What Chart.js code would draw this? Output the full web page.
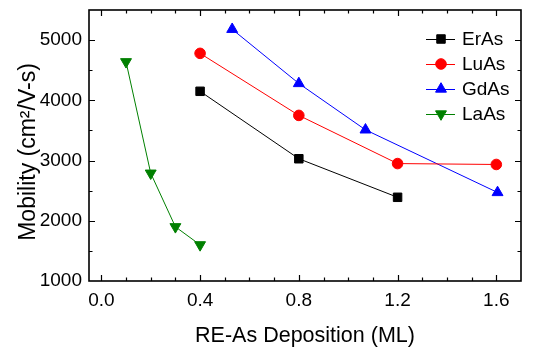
<!DOCTYPE html>
<html><head><meta charset="utf-8">
<script src="https://cdn.jsdelivr.net/npm/chart.js@4/dist/chart.umd.min.js"></script>
<style>html,body{margin:0;padding:0;background:#fff}</style>
</head><body>
<canvas id="c" width="544" height="351" style="display:block;width:544px;height:351px"></canvas>
<script>
// ---- data ----
const seriesNames = ['ErAs', 'LuAs', 'GdAs', 'LaAs'];
const erAsX = [0.4, 0.8, 1.2];
const erAsY = [4150, 3030, 2390];
const luAsX = [0.4, 0.8, 1.2, 1.6];
const luAsY = [4780, 3750, 2950, 2935];
const gdAsX = [0.53, 0.8, 1.07, 1.605];
const gdAsY = [5180, 4280, 3510, 2470];
const laAsX = [0.1, 0.2, 0.3, 0.4];
const laAsY = [4640, 2790, 1900, 1600];
const xTickLabels = ['0.0', '0.4', '0.8', '1.2', '1.6'];
const yTickLabels = ['1000', '2000', '3000', '4000', '5000'];
const xTitle = 'RE-As Deposition (ML)';
const yTitle = 'Mobility (cm\u00B2/V-s)';

const FONT = "'Liberation Sans', Arial, Helvetica, sans-serif";
const colors = ['#000000', '#ff0000', '#0000ff', '#008000'];
const styles = [
  {pointStyle: 'rect', radius: 6, rotation: 0},
  {pointStyle: 'circle', radius: 5.3, rotation: 0},
  {pointStyle: 'triangle', radius: 6.3, rotation: 0},
  {pointStyle: 'triangle', radius: 6.3, rotation: 180}
];
const xs = [erAsX, luAsX, gdAsX, laAsX];
const ys = [erAsY, luAsY, gdAsY, laAsY];

const datasets = seriesNames.map((name, i) => ({
  label: name,
  data: xs[i].map((x, k) => ({x: x, y: ys[i][k]})),
  borderColor: colors[i],
  backgroundColor: colors[i],
  borderWidth: 1,
  pointStyle: styles[i].pointStyle,
  pointRadius: styles[i].radius,
  pointRotation: styles[i].rotation,
  pointBorderWidth: 1,
  pointBackgroundColor: colors[i],
  pointBorderColor: colors[i],
  showLine: true,
  fill: false,
  tension: 0,
  clip: false
}));

function drawMarker(ctx, st, x, y, color) {
  ctx.save();
  ctx.fillStyle = color; ctx.strokeStyle = color; ctx.lineWidth = 1;
  if (Chart.helpers && Chart.helpers.drawPoint) {
    Chart.helpers.drawPoint(ctx, {pointStyle: st.pointStyle, radius: st.radius, rotation: st.rotation, borderWidth: 1}, x, y);
  } else {
    ctx.beginPath(); ctx.arc(x, y, st.radius, 0, Math.PI * 2); ctx.fill();
  }
  ctx.restore();
}

const framePlugin = {
  id: 'frame',
  afterDraw(chart) {
    const ctx = chart.ctx;
    const a = chart.chartArea;
    const xs_ = chart.scales.x, ys_ = chart.scales.y;
    ctx.save();
    ctx.strokeStyle = '#000';
    ctx.lineWidth = 1.6;
    ctx.strokeRect(a.left, a.top, a.right - a.left, a.bottom - a.top);
    ctx.lineWidth = 1.2;
    ctx.beginPath();
    xs_.ticks.forEach(t => {
      if (t.value <= xs_.min + 1e-9 || t.value >= xs_.max - 1e-9) return;
      const major = xTickLabels.includes(t.value.toFixed(1));
      const len = major ? 6 : 3.5;
      const px = Math.round(xs_.getPixelForValue(t.value)) + 0.5;
      ctx.moveTo(px, a.bottom); ctx.lineTo(px, a.bottom - len);
      ctx.moveTo(px, a.top); ctx.lineTo(px, a.top + len);
    });
    ys_.ticks.forEach(t => {
      if (t.value <= ys_.min || t.value >= ys_.max) return;
      const major = yTickLabels.includes(String(t.value));
      const len = major ? 6 : 3.5;
      const py = Math.round(ys_.getPixelForValue(t.value)) + 0.5;
      ctx.moveTo(a.left, py); ctx.lineTo(a.left + len, py);
      ctx.moveTo(a.right, py); ctx.lineTo(a.right - len, py);
    });
    ctx.stroke();
    ctx.restore();

    // y-axis title (rotated), slightly below the plot centre as in the reference
    ctx.save();
    ctx.font = '23px ' + FONT;
    ctx.fillStyle = '#000';
    ctx.textAlign = 'center';
    ctx.textBaseline = 'alphabetic';
    ctx.translate(a.left - 54, (a.top + a.bottom) / 2 + 6.5);
    ctx.rotate(-Math.PI / 2);
    ctx.fillText(yTitle, 0, 0);
    ctx.restore();

    // legend inside plot area, top-right
    ctx.save();
    ctx.font = '19px ' + FONT;
    ctx.textBaseline = 'middle';
    ctx.textAlign = 'left';
    seriesNames.forEach((name, i) => {
      const y = a.top + 29 + i * 25;
      const x0 = a.right - 95;
      ctx.strokeStyle = colors[i];
      ctx.lineWidth = 1;
      ctx.beginPath(); ctx.moveTo(x0, y + 0.5); ctx.lineTo(x0 + 29, y + 0.5); ctx.stroke();
      drawMarker(ctx, styles[i], x0 + 15, y, colors[i]);
      ctx.fillStyle = '#000';
      ctx.fillText(name, x0 + 36, y + 1);
    });
    ctx.restore();
  }
};

new Chart(document.getElementById('c'), {
  type: 'scatter',
  data: {datasets: datasets},
  options: {
    responsive: false,
    animation: false,
    devicePixelRatio: 1,
    layout: {padding: {left: 0, top: 10, right: 23, bottom: 0}},
    plugins: {legend: {display: false}, tooltip: {enabled: false}},
    scales: {
      x: {
        type: 'linear',
        min: -0.05, max: 1.7,
        afterFit: s => { s.height = 70; s.paddingLeft = 0; s.paddingRight = 0; },
        grid: {display: true, drawOnChartArea: false, drawTicks: false},
        border: {display: false},
        ticks: {
          stepSize: 0.1, includeBounds: false, autoSkip: false, maxRotation: 0,
          padding: 8, color: '#000', font: {family: FONT, size: 19},
          callback: v => { const s = Number(v).toFixed(1); return xTickLabels.includes(s) ? s : ''; }
        },
        title: {display: true, text: xTitle, color: '#000', font: {family: FONT, size: 21.5}, padding: {top: 0, bottom: 2}}
      },
      y: {
        type: 'linear',
        min: 1000, max: 5500,
        afterFit: s => { s.width = 89; s.paddingTop = 0; s.paddingBottom = 0; },
        grid: {display: true, drawOnChartArea: false, drawTicks: false},
        border: {display: false},
        ticks: {
          stepSize: 500, includeBounds: false, autoSkip: false,
          padding: 7, color: '#000', font: {family: FONT, size: 19},
          callback: v => { const s = String(Math.round(v)); return yTickLabels.includes(s) ? s : ''; }
        },
        title: {display: false}
      }
    }
  },
  plugins: [framePlugin]
});
</script>
</body></html>
